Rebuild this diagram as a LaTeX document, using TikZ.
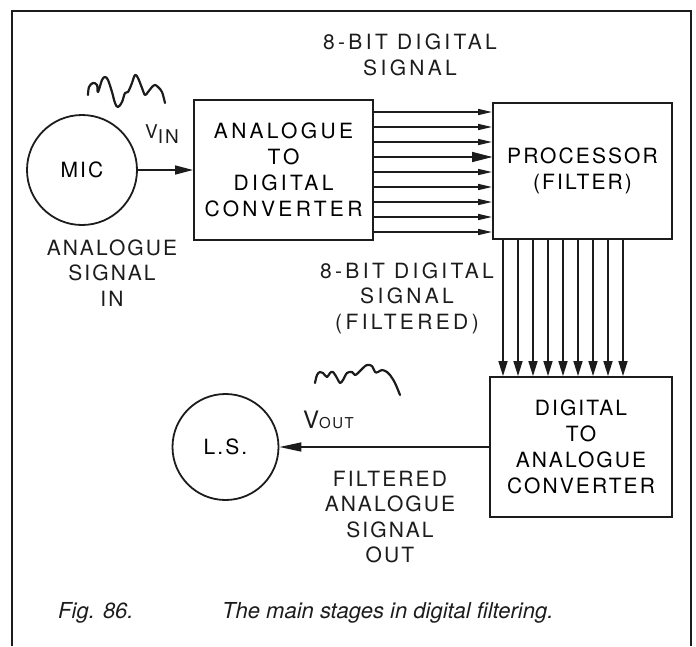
\documentclass[tikz,border=0pt]{standalone}
\usepackage{fontspec}
\setmainfont{TeX Gyre Heros}
\newfontfamily\lblfont[LetterSpace=10]{TeX Gyre Heros}
\newfontfamily\wideblfont[LetterSpace=16]{TeX Gyre Heros}
\usetikzlibrary{arrows.meta,positioning,calc}
\definecolor{ink}{HTML}{1C1C1C}
\tikzset{
  >={Triangle[length=15pt,width=9pt]},
  % block scheme
  blk/.style={draw=ink,line width=1.9pt,inner sep=0pt,align=center,
              font=\lblfont\fontsize{21}{26}\selectfont},
  trans/.style={circle,draw=ink,line width=1.8pt,inner sep=0pt,
              font=\lblfont\fontsize{21}{26}\selectfont},
  lbl/.style={align=center,inner sep=0pt,text=ink,
              font=\lblfont\fontsize{21}{25.5}\selectfont},
  bus/.style={draw=ink,line width=1.6pt},
  sig/.style={->,draw=ink,line width=1.6pt},
  wig/.style={draw=ink,line width=2.2pt,line cap=round,line join=round},
  frame/.style={draw=ink,line width=1.8pt},
  capt/.style={anchor=base west,inner sep=0pt,text=ink,
              font=\itshape\fontsize{22}{22}\selectfont},
}
\begin{document}
\begin{tikzpicture}[x=1pt,y=-1pt]
  \useasboundingbox (0,0) rectangle (696,646);
  \draw[frame] (12,646) -- (12,11) -- (691,11) -- (691,646);
  % blocks
  \node[trans,minimum size=110pt] (mic) at (82,170) {MIC};
  \node[blk,minimum width=179pt,minimum height=140pt,
        font=\wideblfont\fontsize{21}{26}\selectfont] (adc) at (283.5,170)
    {ANALOGUE\\TO\\DIGITAL\\CONVERTER};
  \node[blk,minimum width=179pt,minimum height=136pt] (proc) at (582.5,171)
    {PROCESSOR\\(FILTER)};
  \node[blk,minimum width=182pt,minimum height=140pt] (dac) at (581,447)
    {DIGITAL\\TO\\ANALOGUE\\CONVERTER};
  \node[trans,minimum size=106pt] (ls) at (225.5,447) {L.S.};
  % signals
  \draw[sig,>={Triangle[length=18pt,width=9pt]}] (mic) -- (adc);
  \foreach \y in {112,127,...,232}
    \draw[bus,-{Triangle[length=14pt,width=6pt]}] (adc.east |- 0,\y) -- (proc.west |- 0,\y);
  \draw[bus,-{Triangle[length=20pt,width=10pt]}] (adc.east |- 0,157) -- (proc.west |- 0,157);
  \foreach \x in {503,518,...,623}
    \draw[bus,->] (proc.south -| \x,0) -- (dac.north -| \x,0);
  \draw[sig,>={Triangle[length=22pt,width=9pt]}] (dac.west |- ls.east) -- (ls.east);
  % labels
  \node[lbl,font=\wideblfont\fontsize{21}{26}\selectfont] (bitin) at (410,55)
    {8-BIT DIGITAL\\SIGNAL};
  \node[lbl] (anin) at (112,273) {ANALOGUE\\SIGNAL\\IN};
  \node[lbl,font=\wideblfont\fontsize{21}{25.5}\selectfont] (bitout) at (407,298)
    {8-BIT DIGITAL\\SIGNAL\\(FILTERED)};
  \node[lbl] (anout) at (390,517) {FILTERED\\ANALOGUE\\SIGNAL\\OUT};
  \node[lbl,anchor=base west,font=\lblfont\fontsize{19}{19}\selectfont] (vin)
    at (145,138) {V\raisebox{-5pt}{IN}};
  \node[lbl,anchor=base west] (vout) at (303,428)
    {{\fontsize{24}{24}\selectfont V}\fontsize{15}{15}\selectfont OUT};
  % wiggles
  \draw[wig] plot[smooth,tension=0.6] coordinates {(88,95) (89,87) (93,83) (97,85)
    (98,92) (102,80) (105,77) (108,80) (112,92) (115,103) (118,107) (122,102)
    (125,93) (128,92) (132,83) (135,75) (138,78) (142,88) (145,95) (148,92)
    (152,87) (155,85) (158,87) (162,92) (165,103)};
  \draw[wig] plot[smooth,tension=0.6] coordinates {(315,383) (317,375) (320,372)
    (323,373) (327,377) (330,373) (333,372) (337,378) (340,383) (343,380)
    (347,373) (352,372) (355,375) (358,373) (363,368) (367,365) (372,366)
    (375,372) (378,372) (382,370) (387,372) (390,375) (395,383) (400,395)};
  % caption
  \node[capt] (fig) at (58,618) {Fig. 86.};
  \node[capt] (cap) at (222,618) {The main stages in digital filtering.};
\end{tikzpicture}
\end{document}
